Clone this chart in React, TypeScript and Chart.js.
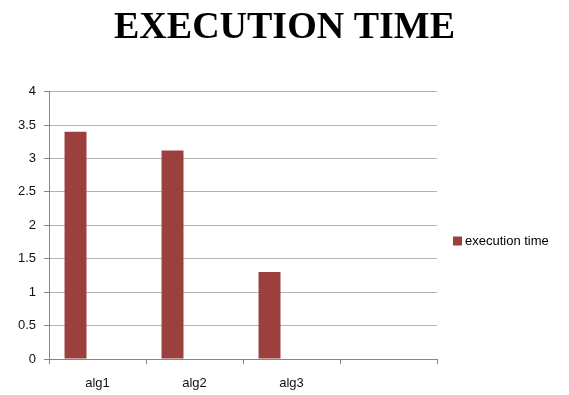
import React, { useEffect, useRef } from "react";
import { Chart, registerables } from "chart.js";

Chart.register(...registerables);

const categories = ["alg1", "alg2", "alg3", ""];
const executionTime = [3.4, 3.12, 1.3, null];
const spacerA = [null, null, null, null];
const spacerB = [null, null, null, null];
const yTicks = [0, 0.5, 1, 1.5, 2, 2.5, 3, 3.5, 4];
const seriesName = "execution time";
const barColor = "#9c403e";

const labelFont = "'Liberation Sans Narrow', 'Arial Narrow', 'Liberation Sans', sans-serif";

// Legend drawn at the right, beside the plot, for the single visible series
const sideLegend = {
  id: "sideLegend",
  afterDraw(chart: Chart) {
    const { ctx, chartArea } = chart;
    const x = chartArea.right + 16;
    const y = 241;
    ctx.save();
    ctx.fillStyle = barColor;
    ctx.fillRect(x, y - 4.5, 9, 9);
    ctx.fillStyle = "#000";
    ctx.font = `13px ${labelFont}`;
    ctx.textBaseline = "middle";
    ctx.textAlign = "left";
    ctx.fillText(seriesName, x + 12, y);
    ctx.restore();
  },
};

export default function App() {
  const ref = useRef<HTMLCanvasElement | null>(null);

  useEffect(() => {
    document.body.style.margin = "0";
    const canvas = ref.current;
    if (!canvas) return;
    const chart = new Chart(canvas, {
      type: "bar",
      data: {
        labels: categories,
        datasets: [
          { label: seriesName, data: executionTime, backgroundColor: barColor, borderWidth: 0 },
          { label: "s2", data: spacerA, backgroundColor: "#4f81bd" },
          { label: "s3", data: spacerB, backgroundColor: "#9bbb59" },
        ],
      },
      options: {
        animation: false,
        responsive: false,
        maintainAspectRatio: false,
        datasets: {
          bar: { categoryPercentage: 0.68, barPercentage: 1 },
        },
        layout: { padding: 0 },
        plugins: {
          title: {
            display: true,
            text: "EXECUTION TIME",
            color: "#000",
            font: { family: "'Liberation Serif', 'Times New Roman', serif", size: 38, weight: "bold" },
            padding: { top: 5, bottom: 41 },
          },
          legend: { display: false },
          tooltip: { enabled: false },
        },
        scales: {
          x: {
            offset: true,
            afterFit: (axis) => {
              axis.height = 36;
            },
            grid: {
              offset: true,
              drawOnChartArea: false,
              drawTicks: true,
              tickLength: 5,
              color: "#868686",
            },
            border: { color: "#868686", width: 1 },
            ticks: {
              color: "#111",
              padding: 12,
              font: { family: labelFont, size: 13 },
            },
          },
          y: {
            min: 0,
            max: 4,
            afterFit: (axis) => {
              axis.width = 49;
            },
            afterBuildTicks: (axis) => {
              axis.ticks = yTicks.map((v) => ({ value: v }));
            },
            grid: {
              color: "#b3b3b3",
              tickLength: 5,
              tickColor: "#868686",
            },
            border: { color: "#868686", width: 1 },
            ticks: {
              color: "#111",
              padding: 8,
              font: { family: labelFont, size: 13 },
              callback: (v) => String(v),
            },
          },
          // empty right-hand axis that keeps room for the legend
          legendSpace: {
            type: "linear",
            position: "right",
            min: 0,
            max: 4,
            afterFit: (axis) => {
              axis.width = 132;
            },
            grid: { display: false },
            border: { display: false },
            ticks: { display: false },
          },
        },
      },
      plugins: [sideLegend],
    });
    return () => chart.destroy();
  }, []);

  return <canvas ref={ref} width={569} height={395} style={{ display: "block" }} />;
}
